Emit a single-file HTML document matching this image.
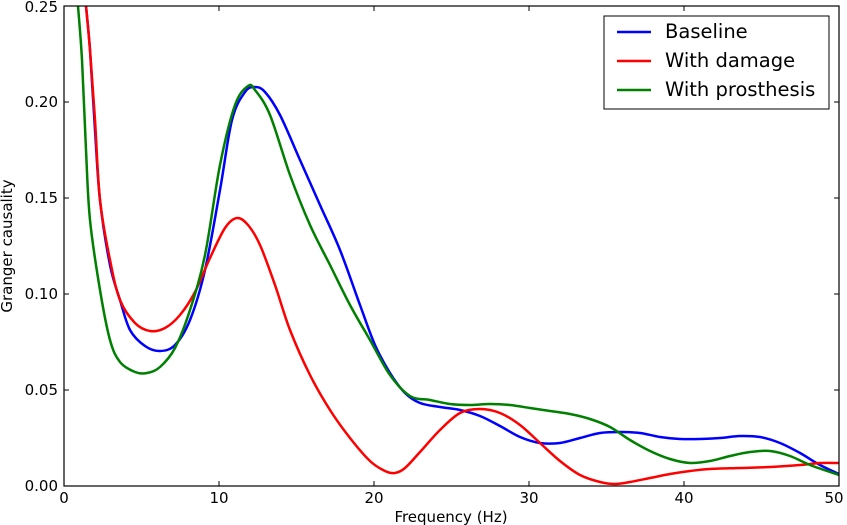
<!DOCTYPE html>
<html><head><style>body{margin:0;background:#fff}svg{display:block;font-family:"DejaVu Sans","Liberation Sans",sans-serif}</style></head><body>
<svg width="847" height="525" viewBox="0 0 847 525">
<defs><clipPath id="c"><rect x="64" y="6" width="775" height="480"/></clipPath></defs>
<g clip-path="url(#c)" fill="none" stroke-width="2.5" stroke-linejoin="round">
<path id="b" stroke="#0000ff" data-p="86,6 90,50 95,130 100,200 110,265 120,300 130,330 145,346 160,351 175,345 190,320 205,270 220,190 232,120 245,92 255,87 265,92 280,115 300,160 320,205 340,250 360,305 375,345 390,373 405,393 420,403 440,407 460,410 480,416 500,426 520,437 540,443 560,443 580,438 600,433 620,432 640,433 660,437 680,439 700,439 720,438 740,436 760,437 780,443 800,453 820,465 839,474"/>
<path stroke="#ff0000" data-p="86,6 90,50 95,120 100,200 110,260 120,300 135,323 150,331 165,328 180,315 195,292 210,258 225,228 237,218 248,225 260,245 275,285 290,330 310,375 330,410 350,438 370,461 385,471 395,473 405,468 420,452 440,430 460,413 480,409 500,413 520,425 540,443 560,461 580,475 600,482 615,484 630,482 650,478 670,474 690,471 710,469 740,468 770,467 800,465 820,463 839,463"/>
<path stroke="#008000" data-p="78,6 82,60 86,150 90,220 100,290 110,340 120,362 135,372 147,373 160,367 175,348 190,310 205,255 220,165 235,105 248,86 255,90 270,115 290,175 310,225 330,265 350,305 370,340 390,375 410,396 430,400 450,404 470,405 490,404 510,405 530,408 550,411 570,414 590,419 610,427 630,440 650,451 670,459 690,463 710,461 730,456 750,452 770,451 790,456 810,465 839,475"/>
</g>
<rect x="64" y="6" width="775" height="480" fill="none" stroke="#000" stroke-width="1.2"/>
<g stroke="#000" stroke-width="1">
<path d="M64,486h5M64,390h5M64,294h5M64,198h5M64,102h5M839,486h-5M839,390h-5M839,294h-5M839,198h-5M839,102h-5"/>
<path d="M219,486v-5M374,486v-5M529,486v-5M684,486v-5M219,6v5M374,6v5M529,6v5M684,6v5"/>
</g>
<g font-size="15" text-anchor="end" fill="#000">
<text x="58" y="491">0.00</text><text x="58" y="395">0.05</text><text x="58" y="299">0.10</text><text x="58" y="203">0.15</text><text x="58" y="107">0.20</text><text x="58" y="12">0.25</text>
</g>
<g font-size="15" text-anchor="middle">
<text x="64" y="503">0</text><text x="219" y="503">10</text><text x="374" y="503">20</text><text x="529" y="503">30</text><text x="684" y="503">40</text><text x="834" y="503">50</text>
<text x="451" y="522">Frequency (Hz)</text>
<text transform="translate(12,246) rotate(-90)">Granger causality</text>
</g>
<rect x="604" y="16" width="225" height="93" fill="#fff" stroke="#000" stroke-width="1"/>
<g stroke-width="2.5"><path d="M617,32h34" stroke="#0000ff"/><path d="M617,61h34" stroke="#ff0000"/><path d="M617,90h34" stroke="#008000"/></g>
<g font-size="19.5"><text x="665" y="38">Baseline</text><text x="665" y="67">With damage</text><text x="665" y="96">With prosthesis</text></g>
</svg>
<script>
document.querySelectorAll('path[data-p]').forEach(function(el){
var p=el.getAttribute('data-p').trim().split(/\s+/).map(function(s){return s.split(',').map(Number);});
var d='M'+p[0][0]+','+p[0][1];
for(var i=0;i<p.length-1;i++){
var p0=p[i-1]||p[i],p1=p[i],p2=p[i+1],p3=p[i+2]||p2;
var c1=[p1[0]+(p2[0]-p0[0])/6,p1[1]+(p2[1]-p0[1])/6];
var c2=[p2[0]-(p3[0]-p1[0])/6,p2[1]-(p3[1]-p1[1])/6];
d+=' C'+c1[0].toFixed(2)+','+c1[1].toFixed(2)+' '+c2[0].toFixed(2)+','+c2[1].toFixed(2)+' '+p2[0]+','+p2[1];
}
el.setAttribute('d',d);
});
</script>
</body></html>
